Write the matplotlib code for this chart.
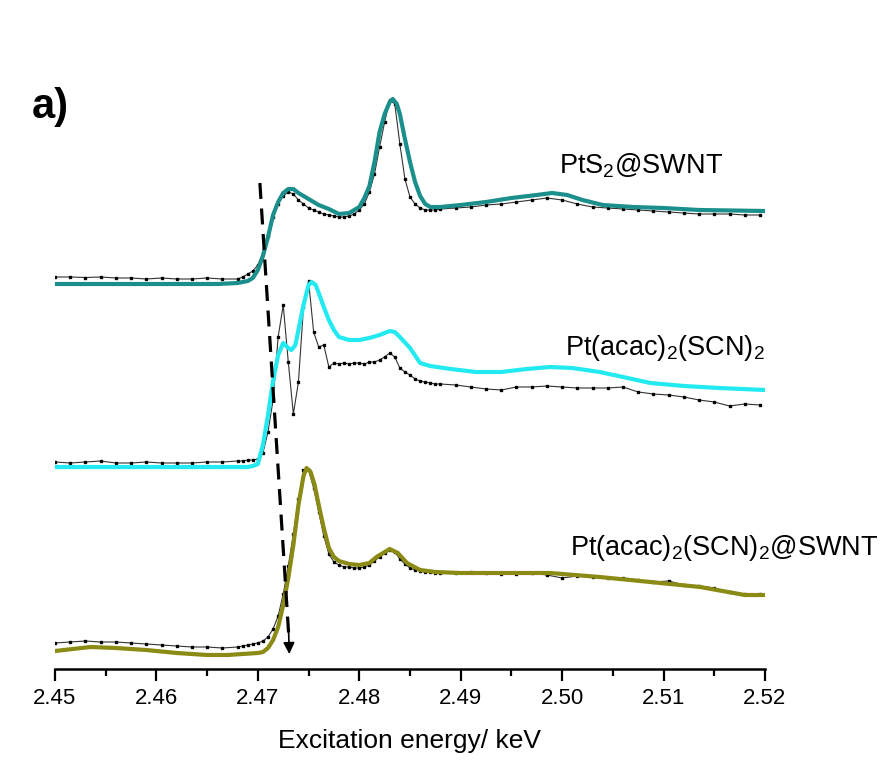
import numpy as np
import matplotlib
matplotlib.use("Agg")
import matplotlib.pyplot as plt

plt.rcParams['font.family'] = ['Liberation Sans', 'DejaVu Sans']
plt.rcParams['mathtext.fontset'] = 'custom'
plt.rcParams['mathtext.rm'] = 'Liberation Sans'
plt.rcParams['mathtext.it'] = 'Liberation Sans:italic'

# ---------------------------------------------------------------- data
# measured energy grid (keV): coarse pre-edge, fine edge, coarse post-edge
energy_data = np.round(np.concatenate([
    np.arange(2.4500, 2.4681, 0.0015),
    np.arange(2.4685, 2.48801, 0.0005),
    np.arange(2.4895, 2.5196, 0.0015),
]), 4)

labels = ['PtS$_2$@SWNT', 'Pt(acac)$_2$(SCN)$_2$', 'Pt(acac)$_2$(SCN)$_2$@SWNT']
offsets = [3.85, 2.02, 0.15]          # vertical stacking (a.u.)

# PtS2@SWNT : measured
pts2_data = [0.07, 0.07, 0.065, 0.07, 0.06, 0.06, 0.05, 0.06, 0.05, 0.05, 0.06, 0.05, 0.05,
             0.07, 0.10, 0.13, 0.19, 0.31, 0.48, 0.67, 0.80, 0.88, 0.92,
             0.90, 0.84, 0.80, 0.76, 0.74, 0.72, 0.70, 0.69, 0.68, 0.67,
             0.67, 0.68, 0.70, 0.74, 0.80, 0.92, 1.10, 1.37, 1.62, 1.84,
             1.80, 1.40, 1.05, 0.87, 0.80, 0.76, 0.74, 0.74, 0.74, 0.75,
             0.76, 0.77, 0.79, 0.80, 0.82, 0.84, 0.86, 0.84, 0.80, 0.77, 0.76,
             0.75, 0.74, 0.73, 0.72, 0.71, 0.70, 0.70, 0.70, 0.69, 0.69]
# PtS2@SWNT : fit
pts2_fit_e = [2.450, 2.460, 2.466, 2.468, 2.469, 2.4695, 2.470, 2.4705, 2.471, 2.4715,
              2.472, 2.4725, 2.473, 2.4735, 2.474, 2.475, 2.476, 2.477, 2.478, 2.479,
              2.480, 2.4805, 2.481, 2.4815, 2.482, 2.4825, 2.483, 2.4833, 2.4837, 2.484,
              2.4845, 2.485, 2.4855, 2.486, 2.4865, 2.487, 2.488, 2.490, 2.4925, 2.495,
              2.4975, 2.499, 2.5005, 2.502, 2.504, 2.507, 2.510, 2.5135, 2.520]
pts2_fit = [0.00, 0.00, 0.00, 0.01, 0.03, 0.06, 0.14, 0.28, 0.47, 0.69,
            0.82, 0.91, 0.95, 0.95, 0.91, 0.85, 0.79, 0.75, 0.70, 0.71,
            0.77, 0.86, 0.98, 1.22, 1.52, 1.70, 1.82, 1.85, 1.80, 1.70,
            1.45, 1.22, 1.02, 0.88, 0.80, 0.77, 0.77, 0.79, 0.82, 0.86,
            0.89, 0.91, 0.89, 0.84, 0.79, 0.77, 0.76, 0.74, 0.73]

# Pt(acac)2(SCN)2 : measured
scn_data = [0.05, 0.04, 0.05, 0.06, 0.04, 0.04, 0.05, 0.04, 0.04, 0.04, 0.05, 0.05, 0.06,
            0.06, 0.07, 0.07, 0.08, 0.14, 0.35, 0.67, 1.30, 1.62, 1.05,
            0.53, 0.85, 1.60, 1.86, 1.35, 1.20, 1.22, 1.00, 1.04, 1.03,
            1.04, 1.03, 1.04, 1.04, 1.03, 1.05, 1.05, 1.07, 1.10, 1.14,
            1.10, 0.99, 0.95, 0.92, 0.88, 0.86, 0.85, 0.84, 0.83, 0.83,
            0.82, 0.80, 0.78, 0.77, 0.80, 0.80, 0.81, 0.80, 0.79, 0.79, 0.79,
            0.80, 0.75, 0.73, 0.72, 0.70, 0.67, 0.65, 0.61, 0.63, 0.62]
# Pt(acac)2(SCN)2 : fit
scn_fit_e = [2.450, 2.460, 2.468, 2.469, 2.4695, 2.470, 2.4705, 2.471, 2.4715, 2.472,
             2.4725, 2.473, 2.4733, 2.4737, 2.474, 2.4745, 2.475, 2.4753, 2.4757, 2.476,
             2.4765, 2.477, 2.4775, 2.478, 2.479, 2.480, 2.481, 2.482, 2.483, 2.4835,
             2.484, 2.485, 2.486, 2.487, 2.489, 2.4915, 2.494, 2.4965, 2.4988, 2.501,
             2.5037, 2.506, 2.5087, 2.512, 2.5155, 2.520]
scn_fit = [0.00, 0.00, 0.00, 0.00, 0.01, 0.03, 0.22, 0.52, 0.86, 1.12,
           1.24, 1.19, 1.17, 1.22, 1.37, 1.62, 1.82, 1.85, 1.82, 1.74,
           1.60, 1.47, 1.37, 1.30, 1.27, 1.27, 1.29, 1.32, 1.36, 1.35,
           1.30, 1.19, 1.04, 1.01, 0.98, 0.95, 0.95, 0.98, 1.00, 0.99,
           0.95, 0.90, 0.84, 0.81, 0.79, 0.77]

# Pt(acac)2(SCN)2@SWNT : measured
scn_swnt_data = [0.11, 0.12, 0.13, 0.12, 0.12, 0.11, 0.10, 0.09, 0.08, 0.07, 0.07, 0.06, 0.07,
                 0.08, 0.09, 0.10, 0.11, 0.13, 0.17, 0.25, 0.38, 0.60, 0.88,
                 1.20, 1.55, 1.84, 1.84, 1.66, 1.42, 1.18, 1.00, 0.92, 0.89,
                 0.87, 0.87, 0.86, 0.86, 0.87, 0.89, 0.93, 0.97, 1.01, 1.04,
                 1.02, 0.95, 0.90, 0.86, 0.84, 0.83, 0.82, 0.82, 0.81, 0.81,
                 0.81, 0.82, 0.81, 0.80, 0.80, 0.81, 0.79, 0.76, 0.78, 0.77, 0.76,
                 0.76, 0.74, 0.72, 0.73, 0.69, 0.68, 0.66, 0.62, 0.60, 0.60]
# Pt(acac)2(SCN)2@SWNT : fit
scn_swnt_fit_e = [2.450, 2.4535, 2.456, 2.459, 2.462, 2.465, 2.467, 2.4685, 2.470, 2.4705,
                  2.471, 2.4715, 2.472, 2.4725, 2.473, 2.4735, 2.474, 2.4745, 2.4748, 2.4752,
                  2.4756, 2.476, 2.4765, 2.477, 2.4775, 2.478, 2.479, 2.480, 2.481, 2.4817,
                  2.483, 2.4838, 2.4847, 2.486, 2.4875, 2.490, 2.4939, 2.4988, 2.5037, 2.5087,
                  2.5136, 2.518, 2.520]
scn_swnt_fit = [0.03, 0.07, 0.06, 0.04, 0.01, -0.01, -0.01, 0.00, 0.01, 0.02,
                0.06, 0.14, 0.27, 0.49, 0.76, 1.09, 1.49, 1.78, 1.86, 1.82,
                1.69, 1.49, 1.26, 1.06, 0.97, 0.93, 0.90, 0.89, 0.91, 0.97,
                1.05, 1.01, 0.91, 0.84, 0.82, 0.81, 0.81, 0.81, 0.77, 0.72,
                0.67, 0.59, 0.59]

# edge-shift guide (dashed arrow), energies in keV, heights in a.u.
shift_e = [2.4702, 2.47303]
shift_y = [4.86, 0.36]
shift_tip = (2.4731, 0.15)

# ---------------------------------------------------------------- plot
fig = plt.figure(figsize=(8.91, 7.62), dpi=100)
ax = fig.add_axes([55 / 891, 1 - 669 / 762, 710 / 891, 609 / 762])

fit_colors = ['#1b8f8c', '#22eaf0', '#8a8a14']
series = [
    (pts2_data, pts2_fit_e, pts2_fit),
    (scn_data, scn_fit_e, scn_fit),
    (scn_swnt_data, scn_swnt_fit_e, scn_swnt_fit),
]
label_pos = [(2.4997, 4.96), (2.5003, 3.14), (2.5008, 1.14)]

for (meas, fe, fy), off, col, lab, (lx, ly) in zip(series, offsets, fit_colors, labels, label_pos):
    assert len(meas) == len(energy_data)
    ax.plot(energy_data, np.array(meas) + off, color='#333333', lw=0.8,
            marker='s', ms=2.0, mfc='black', mec='black', zorder=2)
    ax.plot(fe, np.array(fy) + off, color=col, lw=3.0, zorder=3,
            solid_capstyle='round', solid_joinstyle='round')
    ax.text(lx, ly, lab, fontsize=19.5, ha='left', va='baseline')

# dashed guide with arrow head
ax.plot(shift_e, shift_y, color='black', lw=2.3, ls=(0, (5, 3)), zorder=4)
ax.annotate('', xy=shift_tip, xytext=(shift_e[1], shift_y[1] + 0.02),
            arrowprops=dict(arrowstyle='-|>', color='black', lw=1.2,
                            mutation_scale=17, shrinkA=0, shrinkB=0), zorder=4)

ticks = np.arange(2.45, 2.5201, 0.01)
ax.set_xlim(2.45, 2.52)
ax.set_ylim(0, 6.09)
ax.set_xticks(ticks)
ax.set_xticks(np.arange(2.455, 2.52, 0.01), minor=True)
ax.set_xticklabels([f'{v:.2f}' for v in ticks], fontsize=16)
ax.tick_params(axis='x', which='major', length=8.5, width=1.6, direction='out', pad=5)
ax.tick_params(axis='x', which='minor', length=5, width=1.6, direction='out')
ax.set_yticks([])
for s in ['left', 'right', 'top']:
    ax.spines[s].set_visible(False)
ax.spines['bottom'].set_linewidth(1.8)

ax.set_xlabel('Excitation energy/ keV', fontsize=19)
ax.xaxis.set_label_coords(0.5, -0.098)

fig.text(32 / 891, 1 - 118 / 762, 'a)', fontsize=30, fontweight='bold',
         ha='left', va='baseline')

fig.savefig('out.png', dpi=100, facecolor='white')
